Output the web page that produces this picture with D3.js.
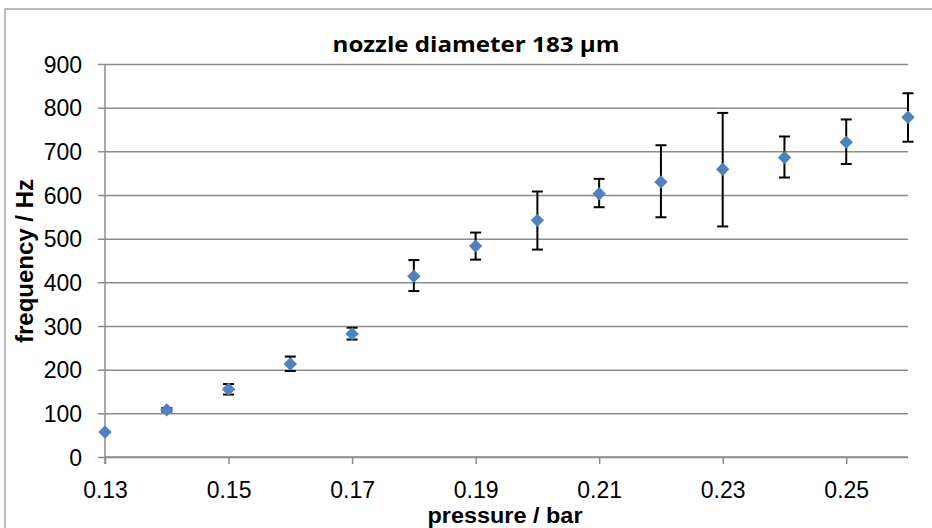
<!DOCTYPE html>
<html>
<head>
<meta charset="utf-8">
<script src="https://cdn.jsdelivr.net/npm/d3@7"></script>
<style>
  body { margin: 0; background: #fff; }
  svg { display: block; }
</style>
</head>
<body>
<div class="viz"></div>
<script>
// data
const pressure = [0.13, 0.14, 0.15, 0.16, 0.17, 0.18, 0.19, 0.20, 0.21, 0.22, 0.23, 0.24, 0.25, 0.26]
const frequency = [57, 108, 155, 213, 282, 414, 483, 542, 603, 630, 659, 686, 721, 778]
const errLow = [57, 104, 143, 197, 269, 380, 452, 475, 572, 549, 528, 640, 671, 722]
const errHigh = [57, 112, 167, 230, 296, 451, 514, 608, 637, 714, 788, 734, 773, 833]
const xTicks = [0.13, 0.15, 0.17, 0.19, 0.21, 0.23, 0.25]
const yTicks = [0, 100, 200, 300, 400, 500, 600, 700, 800, 900]

const width = 932
const height = 528
const plotLeft = 105, plotRight = 908, plotTop = 64, plotBottom = 457

const svg = d3.select('.viz')
  .append('svg')
  .attr('width', width)
  .attr('height', height)

// outer chart border (only top and left show)
svg.append('path')
  .attr('d', `M 5,${height} L 5,9 L ${width},9`)
  .attr('fill', 'none')
  .attr('stroke', '#a6a6a6')
  .attr('stroke-width', 1.5)

const x = d3.scaleLinear().domain([0.13, 0.26]).range([plotLeft, plotRight])
const y = d3.scaleLinear().domain([0, 900]).range([plotBottom, plotTop])

// horizontal gridlines + y ticks
const yAxis = svg.append('g')
  .attr('transform', `translate(${plotLeft},0)`)
  .call(d3.axisLeft(y).tickValues(yTicks).tickSize(-(plotRight - plotLeft)).tickPadding(23))
yAxis.select('.domain').remove()
yAxis.selectAll('line')
  .attr('x1', -7)
  .attr('stroke', '#8c8c8c')
  .attr('stroke-width', 1.5)
yAxis.selectAll('text')
  .attr('font-family', 'Liberation Sans, Arial, sans-serif')
  .attr('font-size', 23)
  .attr('fill', '#000')
  .attr('dy', '0.36em')

// x axis
const xAxis = svg.append('g')
  .attr('transform', `translate(0,${plotBottom})`)
  .call(d3.axisBottom(x).tickValues(xTicks).tickSize(7).tickPadding(17.5).tickFormat(d3.format('.2f')))
xAxis.select('.domain')
  .attr('d', `M ${plotLeft},0 H ${plotRight}`)
  .attr('stroke', '#8c8c8c')
  .attr('stroke-width', 1.5)
xAxis.selectAll('line')
  .attr('stroke', '#8c8c8c')
  .attr('stroke-width', 1.5)
xAxis.selectAll('text')
  .attr('font-family', 'Liberation Sans, Arial, sans-serif')
  .attr('font-size', 23)
  .attr('fill', '#000')

// y axis line
svg.append('line')
  .attr('x1', plotLeft).attr('x2', plotLeft)
  .attr('y1', plotTop).attr('y2', plotBottom + 7)
  .attr('stroke', '#8c8c8c')
  .attr('stroke-width', 1.5)

const points = pressure.map((p, i) => ({ p, f: frequency[i], lo: errLow[i], hi: errHigh[i] }))

// error bars
const bars = svg.append('g')
  .selectAll('g')
  .data(points.filter(d => d.hi > d.lo))
  .enter()
  .append('g')
  .attr('stroke', '#000')
  .attr('stroke-width', 2)

bars.append('line')
  .attr('x1', d => x(d.p)).attr('x2', d => x(d.p))
  .attr('y1', d => y(d.lo)).attr('y2', d => y(d.hi))
bars.append('line')
  .attr('x1', d => x(d.p) - 5.5).attr('x2', d => x(d.p) + 5.5)
  .attr('y1', d => y(d.hi)).attr('y2', d => y(d.hi))
bars.append('line')
  .attr('x1', d => x(d.p) - 5.5).attr('x2', d => x(d.p) + 5.5)
  .attr('y1', d => y(d.lo)).attr('y2', d => y(d.lo))

// diamond markers
svg.append('g')
  .selectAll('path')
  .data(points)
  .enter()
  .append('path')
  .attr('d', 'M 0,-6.7 L 6.7,0 L 0,6.7 L -6.7,0 Z')
  .attr('transform', d => `translate(${x(d.p)},${y(d.f)})`)
  .attr('fill', '#4f81bd')

// titles
svg.append('text')
  .text('nozzle diameter 183 µm')
  .attr('x', 476)
  .attr('y', 52)
  .attr('text-anchor', 'middle')
  .attr('font-family', 'Open Sans, sans-serif')
  .attr('font-weight', 'bold')
  .attr('font-size', 22)
  .attr('textLength', 287)
  .attr('lengthAdjust', 'spacingAndGlyphs')

svg.append('text')
  .text('pressure / bar')
  .attr('x', 505)
  .attr('y', 523)
  .attr('text-anchor', 'middle')
  .attr('font-family', 'Liberation Sans, Arial, sans-serif')
  .attr('font-weight', 'bold')
  .attr('font-size', 22)
  .attr('textLength', 155)
  .attr('lengthAdjust', 'spacingAndGlyphs')

svg.append('text')
  .text('frequency / Hz')
  .attr('transform', 'translate(33,261) rotate(-90)')
  .attr('text-anchor', 'middle')
  .attr('font-family', 'Liberation Sans, Arial, sans-serif')
  .attr('font-weight', 'bold')
  .attr('font-size', 24)
</script>
</body>
</html>
